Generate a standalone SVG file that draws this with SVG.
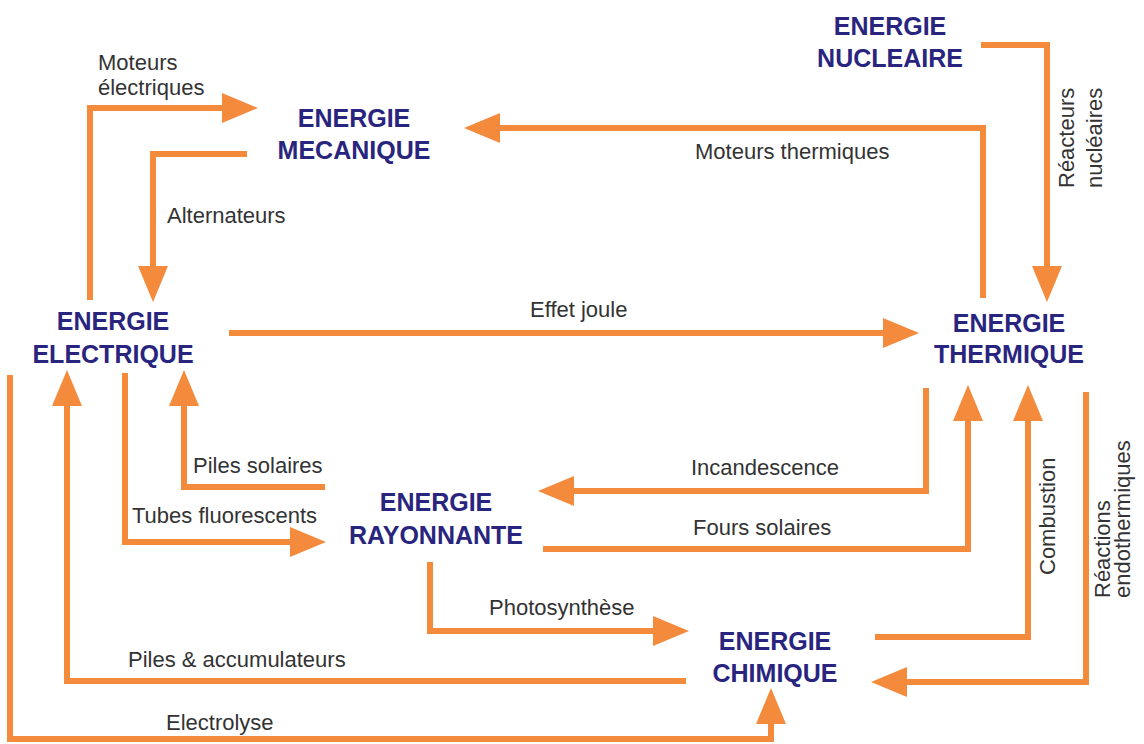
<svg xmlns="http://www.w3.org/2000/svg" width="1144" height="744" viewBox="0 0 1144 744">
  <defs>
    <marker id="ah" markerUnits="userSpaceOnUse" markerWidth="36" markerHeight="30" refX="0" refY="15" orient="auto" viewBox="0 0 36 30">
      <path d="M0,0 L36,15 L0,30 Z" fill="#F48A3C"/>
    </marker>
    <style>
      .c { fill: none; stroke: #F48A3C; stroke-width: 6; stroke-linejoin: miter; marker-end: url(#ah); }
      .t { font-family: "Liberation Sans", Arial, sans-serif; font-weight: bold; font-size: 25px; fill: #29257F; text-anchor: middle; }
      .l { font-family: "Liberation Sans", Arial, sans-serif; font-size: 22px; fill: #333333; }
    </style>
  </defs>
  <rect width="1144" height="744" fill="#ffffff"/>

  <g id="connectors">
    <path class="c" d="M90,300 V108 H222"/>
    <path class="c" d="M247,154 H153 V266"/>
    <path class="c" d="M983,298 V128 H500"/>
    <path class="c" d="M981,45 H1047 V266"/>
    <path class="c" d="M229,333 H883"/>
    <path class="c" d="M926,388 V491 H574"/>
    <path class="c" d="M543,549 H968 V421"/>
    <path class="c" d="M875,637 H1028 V421"/>
    <path class="c" d="M1086,392 V682 H907"/>
    <path class="c" d="M430,562 V631 H653"/>
    <path class="c" d="M686,681 H67 V406"/>
    <path class="c" d="M10,375 V739 H771 V724"/>
    <path class="c" d="M325,487 H184 V406"/>
    <path class="c" d="M125,373 V542 H290"/>
  </g>

  <g id="labels">
    <text class="l" x="98" y="70">Moteurs</text>
    <text class="l" x="98" y="95">électriques</text>
    <text class="l" x="167" y="223">Alternateurs</text>
    <text class="l" x="695" y="159">Moteurs thermiques</text>
    <text class="l" x="530" y="317">Effet joule</text>
    <text class="l" x="193" y="473">Piles solaires</text>
    <text class="l" x="132" y="523">Tubes fluorescents</text>
    <text class="l" x="691" y="475">Incandescence</text>
    <text class="l" x="693" y="535">Fours solaires</text>
    <text class="l" x="489" y="615">Photosynthèse</text>
    <text class="l" x="128" y="667">Piles &amp; accumulateurs</text>
    <text class="l" x="166" y="730">Electrolyse</text>
    <text class="l" transform="translate(1074,188) rotate(-90)">Réacteurs</text>
    <text class="l" transform="translate(1102,188) rotate(-90)">nucléaires</text>
    <text class="l" transform="translate(1055,575) rotate(-90)">Combustion</text>
    <text class="l" transform="translate(1110,598) rotate(-90)">Réactions</text>
    <text class="l" transform="translate(1130,598) rotate(-90)">endothermiques</text>
  </g>

  <g id="mecanique">
    <text class="t" x="354" y="127">ENERGIE</text>
    <text class="t" x="354" y="159">MECANIQUE</text>
  </g>
  <g id="nucleaire">
    <text class="t" x="890" y="35">ENERGIE</text>
    <text class="t" x="890" y="67">NUCLEAIRE</text>
  </g>
  <g id="electrique">
    <text class="t" x="113" y="330">ENERGIE</text>
    <text class="t" x="113" y="363">ELECTRIQUE</text>
  </g>
  <g id="thermique">
    <text class="t" x="1009" y="332">ENERGIE</text>
    <text class="t" x="1009" y="363">THERMIQUE</text>
  </g>
  <g id="rayonnante">
    <text class="t" x="436" y="511">ENERGIE</text>
    <text class="t" x="436" y="544">RAYONNANTE</text>
  </g>
  <g id="chimique">
    <text class="t" x="775" y="650">ENERGIE</text>
    <text class="t" x="775" y="682">CHIMIQUE</text>
  </g>
</svg>
